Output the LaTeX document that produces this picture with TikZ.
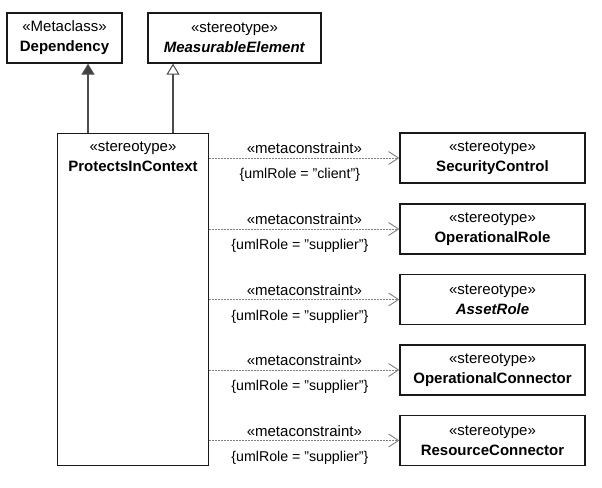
\documentclass[tikz,border=0pt]{standalone}
\usepackage{fontspec}
\setmainfont{Liberation Sans}
\usetikzlibrary{arrows.meta,calc}
\newcommand{\sq}{\symbol{34}}
\tikzset{
  umlbox/.style={draw=black!90, line width=1.3pt, fill=white, inner sep=0pt, align=center, font=\fontsize{15}{20}\selectfont},
  boxtext/.style={inner sep=0pt, align=center, font=\fontsize{15}{20}\selectfont},
  mlbl/.style={inner sep=0pt, font=\fontsize{15}{16}\selectfont},
  ulbl/.style={inner sep=0pt, font=\fontsize{14.2}{16}\selectfont},
  gen/.style={draw=black!70, line width=1.3pt},
  filledgen/.style={gen, -{Triangle[length=11pt,width=13pt,fill=black!75]}},
  opengen/.style={gen, -{Triangle[open,length=11pt,width=13pt,fill=white,line width=1pt]}},
  metadep/.style={draw=black!50, line width=0.8pt, dash pattern=on 2pt off 1pt, -{Straight Barb[length=10pt,width=13pt,line width=0.9pt,sep=0pt]}},
}
\begin{document}
\begin{tikzpicture}[x=1pt,y=-1pt]
\useasboundingbox (0,0) rectangle (602,487);
% top boxes
\node[umlbox, minimum width=115pt, minimum height=50pt] (dep) at (64.5,38) {«Metaclass»\\\textbf{Dependency}};
\node[umlbox, minimum width=173pt, minimum height=50pt] (meas) at (234.5,38) {«stereotype»\\\textbf{\itshape MeasurableElement}};
% main stereotype
\node[umlbox, minimum width=151pt, minimum height=332pt] (pic) at (133,299.5) {};
\node[boxtext, anchor=north] (pict) at ($(pic.north)+(0,9)$) {«stereotype»\\\textbf{ProtectsInContext}};
% generalizations
\coordinate (g1) at (88,133);
\coordinate (g2) at (173,133);
\draw[filledgen] (g1) -- (g1 |- dep.south);
\draw[opengen] (g2) -- (g2 |- meas.south);
% right boxes
\node[umlbox, minimum width=185pt, minimum height=50pt] (sc) at (492.5,158) {«stereotype»\\\textbf{SecurityControl}};
\node[umlbox, minimum width=185pt, minimum height=50pt] (or) at (492.5,229) {«stereotype»\\\textbf{OperationalRole}};
\node[umlbox, minimum width=185pt, minimum height=50pt] (ar) at (492.5,299.5) {«stereotype»\\\textbf{\itshape AssetRole}};
\node[umlbox, minimum width=185pt, minimum height=50pt] (oc) at (492.5,370) {«stereotype»\\\textbf{OperationalConnector}};
\node[umlbox, minimum width=185pt, minimum height=50pt] (rc) at (492.5,440.5) {«stereotype»\\\textbf{ResourceConnector}};
% metaconstraints
\foreach \t/\r in {sc/client, or/supplier, ar/supplier, oc/supplier, rc/supplier}{
  \draw[metadep] (pic.east |- \t.west) -- (\t.west);
  \node[mlbl, anchor=base] (m\t) at ($(\t.west)+(-95,-4.5)$) {«metaconstraint»};
  \node[ulbl, anchor=base] (u\t) at ($(\t.west)+(-99.5,20.5)$) {\{umlRole = \sq\r\sq\}};
}
\end{tikzpicture}
\end{document}
